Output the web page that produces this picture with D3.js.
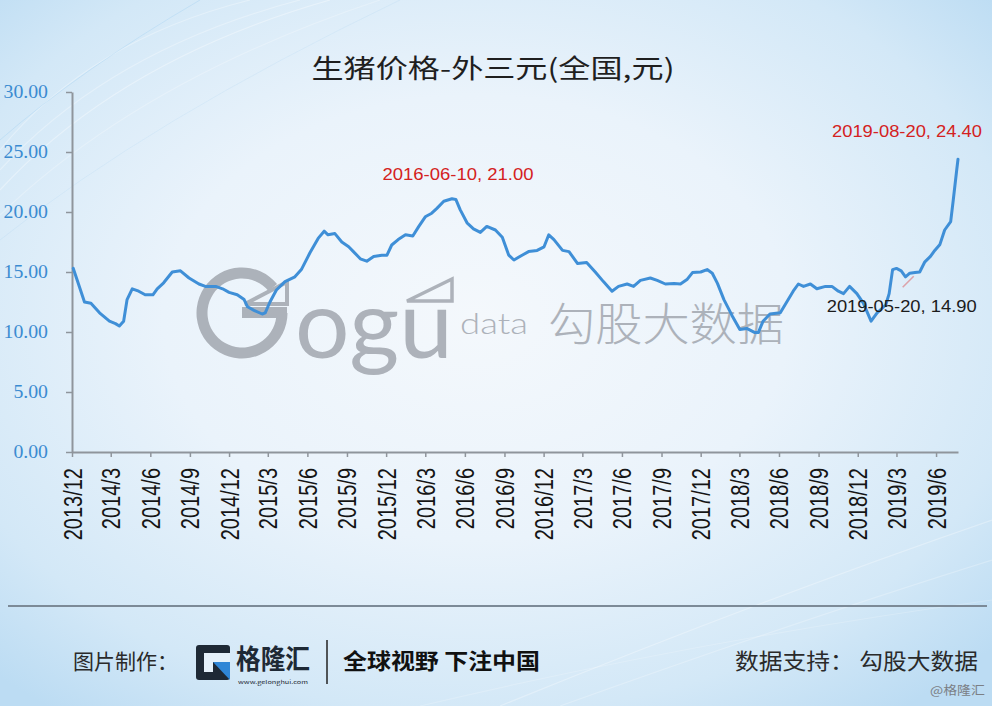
<!DOCTYPE html>
<html><head><meta charset="utf-8">
<script src="https://cdn.jsdelivr.net/npm/d3@7/dist/d3.min.js"></script>
<style>html,body{margin:0;padding:0;background:#e6f1fa;} svg{display:block}</style>
</head><body>
<svg id="chart" width="992" height="706"></svg>
<script>
// ---------------- data ----------------
const title = "生猪价格-外三元(全国,元)";
const dates = [
"2013-12-04","2013-12-18","2013-12-30","2014-01-14","2014-02-03","2014-02-26","2014-03-12","2014-03-21","2014-03-31","2014-04-08",
"2014-04-20","2014-05-05","2014-05-20","2014-06-07","2014-06-17","2014-07-02","2014-07-22","2014-08-10","2014-08-30","2014-09-22",
"2014-10-07","2014-10-31","2014-11-16","2014-12-01","2014-12-20","2015-01-05","2015-01-13","2015-01-28","2015-02-16","2015-02-23",
"2015-03-06","2015-03-21","2015-04-10","2015-05-03","2015-05-18","2015-06-07","2015-06-26","2015-07-10","2015-07-19","2015-08-04",
"2015-08-20","2015-09-05","2015-09-16","2015-10-02","2015-10-17","2015-11-02","2015-11-21","2015-12-03","2015-12-14","2015-12-29",
"2016-01-15","2016-02-01","2016-02-15","2016-03-01","2016-03-16","2016-03-28","2016-04-13","2016-05-02","2016-05-11","2016-05-21",
"2016-06-06","2016-06-21","2016-07-07","2016-07-22","2016-08-11","2016-08-27","2016-09-11","2016-09-23","2016-10-12","2016-10-27",
"2016-11-16","2016-12-02","2016-12-13","2016-12-25","2017-01-14","2017-01-29","2017-02-18","2017-03-11","2017-03-31","2017-04-19",
"2017-05-09","2017-05-24","2017-06-13","2017-06-28","2017-07-14","2017-08-06","2017-08-22","2017-09-10","2017-09-30","2017-10-15",
"2017-10-31","2017-11-12","2017-12-01","2017-12-16","2017-12-28","2018-01-09","2018-01-24","2018-02-13","2018-03-02","2018-03-18",
"2018-04-06","2018-04-14","2018-04-25","2018-05-11","2018-06-04","2018-06-19","2018-07-04","2018-07-16","2018-07-28","2018-08-13",
"2018-08-28","2018-09-17","2018-10-02","2018-10-17","2018-10-29","2018-11-12","2018-11-29","2018-12-14","2019-01-01","2019-01-15",
"2019-02-04","2019-02-12","2019-02-20","2019-03-01","2019-03-12","2019-03-22","2019-04-01","2019-04-13","2019-04-24","2019-05-06",
"2019-05-19","2019-05-29","2019-06-10","2019-06-21","2019-07-05","2019-07-11","2019-07-19","2019-07-22"];
const prices = [
15.3,13.8,12.5,12.4,11.6,10.9,10.7,10.5,10.9,12.7,
13.6,13.4,13.1,13.1,13.6,14.1,15.0,15.1,14.5,14.0,
13.8,13.8,13.6,13.3,13.1,12.7,12.1,11.8,11.5,11.6,
12.5,13.5,14.2,14.6,15.2,16.6,17.8,18.4,18.1,18.2,
17.5,17.1,16.7,16.1,15.9,16.3,16.4,16.4,17.25,17.7,
18.1,18.0,18.8,19.6,19.9,20.3,20.9,21.1,21.05,20.2,
19.1,18.6,18.3,18.8,18.5,17.9,16.4,16.0,16.4,16.7,
16.8,17.1,18.1,17.7,16.8,16.7,15.7,15.8,15.0,14.2,
13.4,13.8,14.0,13.8,14.3,14.5,14.3,14.0,14.05,14.0,
14.4,14.95,15.0,15.2,14.9,14.05,12.7,11.3,10.2,10.3,
9.95,9.95,10.9,11.5,11.6,12.5,13.4,14.0,13.8,14.0,
13.6,13.8,13.8,13.4,13.2,13.8,13.2,12.4,10.9,11.6,
12.25,13.2,15.2,15.3,15.1,14.6,14.9,14.95,15.0,15.85,
16.3,16.8,17.3,18.5,19.2,21.0,23.5,24.4];
const tickLabels = ["2013/12","2014/3","2014/6","2014/9","2014/12","2015/3","2015/6","2015/9","2015/12",
"2016/3","2016/6","2016/9","2016/12","2017/3","2017/6","2017/9","2017/12","2018/3","2018/6","2018/9",
"2018/12","2019/3","2019/6"];
const yTicks = [0, 5, 10, 15, 20, 25, 30];
const annoDates  = ["2016-05-02", "2019-07-22", "2019-04-10"];
const annoValues = [21.0, 24.4, 14.9];
const annoTexts  = ["2016-06-10, 21.00", "2019-08-20, 24.40", "2019-05-20, 14.90"];
const axisStart = "2013-12-01", axisEnd = "2019-07-22";

// ---------------- setup ----------------
const parse = d3.timeParse("%Y-%m-%d");
const parseTick = d3.timeParse("%Y/%m");
const svg = d3.select("#chart");
const W = 992, H = 706;
const defs = svg.append("defs");

// background
const rg = defs.append("radialGradient").attr("id","bg").attr("cx","48%").attr("cy","45%").attr("r","70%");
rg.append("stop").attr("offset","0%").attr("stop-color","#f4f8fc");
rg.append("stop").attr("offset","45%").attr("stop-color","#eaf3fb");
rg.append("stop").attr("offset","80%").attr("stop-color","#d3e8f7");
rg.append("stop").attr("offset","100%").attr("stop-color","#bcdcf3");
svg.append("rect").attr("width",W).attr("height",H).attr("fill","url(#bg)");
// soft streaks
const streaks = svg.append("g").attr("fill","none").attr("stroke","#ffffff");
[[0,190,120,60,330,0,0.35],[0,170,110,50,300,0,0.3],[0,215,140,80,380,0,0.25],[0,150,90,40,250,0,0.3],
 [500,706,760,600,992,520,0.3],[560,706,800,620,992,560,0.25],[420,706,700,640,992,600,0.2]].forEach(s=>{
  streaks.append("path").attr("d",`M${s[0]},${s[1]} Q${s[2]},${s[3]} ${s[4]},${s[5]}`)
    .attr("stroke-width",1.2).attr("opacity",s[6]);
});
const blueStreak = svg.append("g").attr("fill","none").attr("stroke","#9fcdf0");
[[0,140,80,70,200,0,0.35],[0,240,150,120,400,0,0.18]].forEach(s=>{
  blueStreak.append("path").attr("d",`M${s[0]},${s[1]} Q${s[2]},${s[3]} ${s[4]},${s[5]}`)
    .attr("stroke-width",1).attr("opacity",s[6]);
});

// scales
const x = d3.scaleTime().domain([parse(axisStart), parse(axisEnd)]).range([72, 958]);
const y = d3.scaleLinear().domain([0, 30]).range([452, 92]);

// title
svg.append("text").attr("x", 493).attr("y", 78).attr("text-anchor","middle")
  .attr("font-family","'Noto Sans CJK SC', sans-serif").attr("font-size",26).attr("fill","#1f1f1f")
  .attr("textLength",363).attr("lengthAdjust","spacingAndGlyphs").text(title);

// watermark
const wm = svg.append("g").attr("fill","#a6abb3").attr("stroke","#a6abb3").attr("opacity",0.9);
const gcx = 242, gcy = 313, gr = 40;
const arc = d3.arc().innerRadius(gr-5.5).outerRadius(gr+5.5).startAngle(Math.PI*0.5).endAngle(Math.PI*2.28);
wm.append("path").attr("d", arc()).attr("transform",`translate(${gcx},${gcy})`).attr("stroke","none");
wm.append("rect").attr("x",gcx).attr("y",gcy-6).attr("width",gr+5).attr("height",11).attr("stroke","none");
wm.append("path").attr("d",`M${gcx+3},${gcy-9} L${gcx+45},${gcy-31} L${gcx+45},${gcy-9} Z`).attr("fill","none").attr("stroke-width",4);
wm.append("text").attr("x",295).attr("y",358).attr("font-family","Lato, sans-serif").attr("font-size",95)
  .attr("stroke","none").attr("textLength",158).attr("lengthAdjust","spacingAndGlyphs").text("ogu");
wm.append("path").attr("d","M407,301 L452,279 L452,301 Z").attr("fill","none").attr("stroke-width",3.5);
wm.append("text").attr("x",460).attr("y",334).attr("font-family","Lato, sans-serif").attr("font-weight",300)
  .attr("font-size",30).attr("stroke","none").attr("textLength",68).attr("lengthAdjust","spacingAndGlyphs").text("data");
wm.append("text").attr("x",548).attr("y",341).attr("font-family","'Noto Sans CJK SC', sans-serif").attr("font-weight",300)
  .attr("font-size",45).attr("stroke","none").attr("textLength",236).attr("lengthAdjust","spacingAndGlyphs").text("勾股大数据");

// axes
const yAxis = svg.append("g").attr("transform","translate(72,0)")
  .call(d3.axisLeft(y).tickValues(yTicks).tickSize(6).tickSizeOuter(0).tickPadding(18).tickFormat(d3.format(".2f")));
yAxis.select(".domain").attr("stroke","#8f959c").attr("stroke-width",2);
yAxis.selectAll(".tick line").attr("stroke","#8f959c").attr("stroke-width",1.5);
yAxis.selectAll(".tick text").attr("font-family","'Liberation Serif', serif").attr("font-size",18)
  .attr("fill","#3b8bd1").attr("x", -24/1.1).attr("transform","scale(1.1,1)");

const xAxis = svg.append("g").attr("transform","translate(0,452)")
  .call(d3.axisBottom(x).tickValues(tickLabels.map(parseTick)).tickSize(5).tickSizeOuter(0)
    .tickFormat((d,i)=>tickLabels[i]));
xAxis.select(".domain").attr("stroke","#8f959c").attr("stroke-width",2);
xAxis.selectAll(".tick line").attr("stroke","#8f959c").attr("stroke-width",1.5);
xAxis.selectAll(".tick text").attr("font-family","'Liberation Sans', Arial, sans-serif").attr("font-size",20)
  .attr("fill","#151515").attr("text-anchor","end").attr("x",0).attr("y",0).attr("dy","0.36em")
  .attr("transform","translate(0,16) rotate(-90) scale(1,1.25)");

// line
const series = dates.map((d,i)=>({date: parse(d), value: prices[i]}));
svg.append("path").datum(series).attr("fill","none").attr("stroke","#3f8fd7").attr("stroke-width",3)
  .attr("stroke-linejoin","round").attr("stroke-linecap","round")
  .attr("d", d3.line().x(d=>x(d.date)).y(d=>y(d.value)));

// annotations
const annoStyle = [
  {dx: 6, dy: -26, color: "#d42121", len: 151},
  {dx: -51, dy: -28, color: "#d42121", len: 150},
  {dx: -12, dy: 33, color: "#1c1c1c", len: 150}
];
annoTexts.forEach((t,i)=>{
  const px = x(parse(annoDates[i])), py = y(annoValues[i]);
  const s = annoStyle[i];
  if (i === 2) {
    svg.append("line").attr("x1",px).attr("y1",py+3).attr("x2",px-11).attr("y2",py+14)
      .attr("stroke","#dca3aa").attr("stroke-width",1.6);
  }
  svg.append("text").attr("x",px+s.dx).attr("y",py+s.dy).attr("dy","0.35em").attr("text-anchor","middle")
    .attr("font-family","'Liberation Sans', Arial, sans-serif").attr("font-size",16).attr("fill",s.color)
    .attr("textLength",s.len).attr("lengthAdjust","spacingAndGlyphs").text(t);
});

// footer
svg.append("line").attr("x1",8).attr("x2",987).attr("y1",606).attr("y2",606).attr("stroke","#7c8a97").attr("stroke-width",2);
const ft = svg.append("g").attr("font-family","'Noto Sans CJK SC', sans-serif");
ft.append("text").attr("x",73).attr("y",669).attr("font-size",21).attr("fill","#2a2a2a")
  .attr("textLength",105).attr("lengthAdjust","spacingAndGlyphs").text("图片制作：");
// logo icon
ft.append("rect").attr("x",196).attr("y",645).attr("width",34).attr("height",35).attr("rx",3).attr("fill","#1e2935");
ft.append("rect").attr("x",204).attr("y",653).attr("width",26).attr("height",9).attr("fill","#e4f0f9");
ft.append("rect").attr("x",204).attr("y",653).attr("width",9).attr("height",19).attr("fill","#e4f0f9");
ft.append("path").attr("d","M213,662 L230,662 L230,680 Z").attr("fill","#2f86d6");
ft.append("text").attr("x",236).attr("y",669).attr("font-size",27).attr("font-weight",700).attr("fill","#1e2935")
  .attr("textLength",74).attr("lengthAdjust","spacingAndGlyphs").text("格隆汇");
ft.append("text").attr("x",238).attr("y",684).attr("font-size",5).attr("fill","#1e2935")
  .attr("textLength",70).attr("lengthAdjust","spacingAndGlyphs").text("www.gelonghui.com");
ft.append("line").attr("x1",327).attr("x2",327).attr("y1",640).attr("y2",684).attr("stroke","#222").attr("stroke-width",1.5);
ft.append("text").attr("x",343).attr("y",669).attr("font-size",22).attr("font-weight",700).attr("fill","#111")
  .attr("textLength",197).attr("lengthAdjust","spacingAndGlyphs").text("全球视野 下注中国");
ft.append("text").attr("x",735).attr("y",669).attr("font-size",22).attr("fill","#2a2a2a")
  .attr("textLength",243).attr("lengthAdjust","spacingAndGlyphs").text("数据支持： 勾股大数据");
ft.append("text").attr("x",930).attr("y",695).attr("font-size",12).attr("fill","#7b7f85")
  .attr("textLength",55).attr("lengthAdjust","spacingAndGlyphs").text("@格隆汇");
</script>
</body></html>
